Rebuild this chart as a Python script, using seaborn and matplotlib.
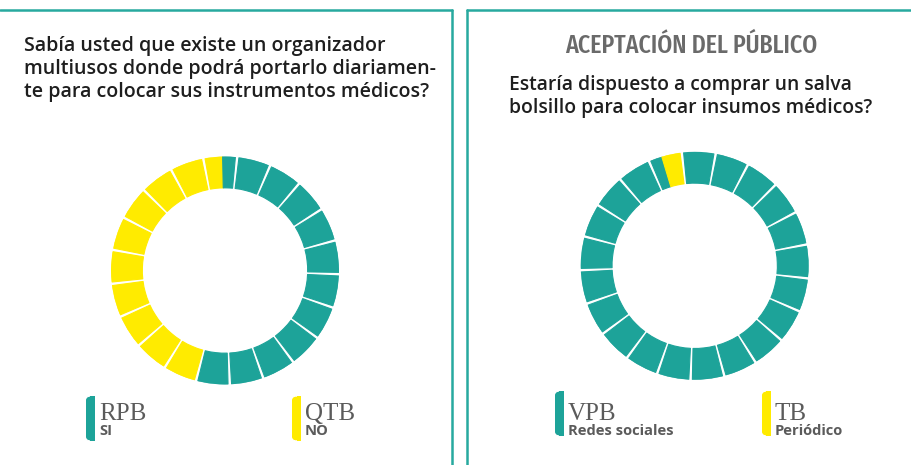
import numpy as np
import matplotlib
matplotlib.use("Agg")
import matplotlib.pyplot as plt
from matplotlib import font_manager as fm
from matplotlib.lines import Line2D
from matplotlib.patches import FancyBboxPatch, Rectangle
import seaborn as sns

# survey data (35 answers each)
left_codes = ["RPB", "QTB"]
left_labels = ["SI", "NO"]
left_counts = [19, 16]

right_codes = ["VPB", "TB"]
right_labels = ["Redes sociales", "Periódico"]
right_counts = [34, 1]

left_question = ("Sabía usted que existe un organizador\n"
                 "multiusos donde podrá portarlo diariamen-\n"
                 "te para colocar sus instrumentos médicos?")
right_question = ("Estaría dispuesto a comprar un salva\n"
                  "bolsillo para colocar insumos médicos?")
right_title = "ACEPTACIÓN DEL PÚBLICO"

N_BLOCKS = 21

sns.set_theme(style="white")
plt.rcParams["font.family"] = ["Open Sans", "DejaVu Sans"]
palette = sns.color_palette(["#1da399", "#ffeb00"])
TEAL, YELLOW = palette[0], palette[1]
BORDER = "#27a99f"

# look for the narrowest sans face for the title
STRETCH = {"ultra-condensed": 100, "extra-condensed": 200, "condensed": 300,
           "semi-condensed": 400, "normal": 500}
WEIGHT = {"light": 300, "normal": 400, "regular": 400, "medium": 500,
          "semibold": 600, "demibold": 600, "bold": 700}


def num(v, table, default):
    if isinstance(v, (int, float)):
        return v
    return table.get(str(v).lower(), default)


title_font, best = None, None
for f in fm.fontManager.ttflist:
    low = f.name.lower()
    if "serif" in low or "mono" in low or f.style != "normal":
        continue
    st = num(f.stretch, STRETCH, 500)
    if "extracondensed" in low.replace(" ", "") or "extra condensed" in low:
        st = min(st, 200)
    elif "semicondensed" in low.replace(" ", ""):
        st = min(st, 400)
    elif "condensed" in low or "narrow" in low:
        st = min(st, 300)
    if st >= 500:
        continue
    score = st * 1.5 + abs(num(f.weight, WEIGHT, 400) - 450) * 0.5
    if best is None or score < best:
        best, title_font = score, f

W, H = 912, 465
fig = plt.figure(figsize=(W / 100, H / 100), dpi=100)
fig.patch.set_facecolor("white")


def px(x, y):
    return x / W, 1 - y / H


def block_donut(cx, cy, counts, grid_start, data_start, r_px=114):
    x0, y0 = px(cx - r_px, cy + r_px)
    ax = fig.add_axes([x0, y0, 2 * r_px / W, 2 * r_px / H], projection="polar")
    ax.set_theta_zero_location("N")
    ax.set_theta_direction(-1)
    frac = np.array(counts) / np.sum(counts)
    edges = data_start + 360 * np.concatenate([[0], np.cumsum(frac)])
    bw = 360 / N_BLOCKS
    gap = 1.8
    for i in range(N_BLOCKS):
        a0 = grid_start + i * bw + gap / 2
        a1 = grid_start + (i + 1) * bw - gap / 2
        for shift in (-360, 0, 360):
            for k in range(len(counts)):
                s = max(a0, edges[k] + shift)
                e = min(a1, edges[k + 1] + shift)
                if e - s > 0.05:
                    ax.bar(np.deg2rad((s + e) / 2), 0.275, width=np.deg2rad(e - s),
                           bottom=0.725, color=palette[k], linewidth=0.8,
                           edgecolor=palette[k], joinstyle="round")
    ax.set_ylim(0, 1)
    ax.set_axis_off()
    return ax


block_donut(225, 270.5, left_counts, grid_start=-11, data_start=-1.2)
block_donut(694.7, 265.8, right_counts, grid_start=-6.5, data_start=-6.5)

# panel borders
for xs, ys in [((0, 452), (10.5, 10.5)), ((452, 452), (10.5, 466)),
               ((467, 467), (10.5, 466)), ((467, 912), (10.5, 10.5))]:
    fig.add_artist(Line2D([x / W for x in xs], [1 - y / H for y in ys],
                          color=BORDER, lw=1.8))

# texts
fig.text(*px(24, 36), left_question, fontsize=14.1, color="#1e1e1e",
         fontweight="semibold", va="top", ha="left", linespacing=1.2)
fig.text(*px(509, 75), right_question, fontsize=13.9, color="#1e1e1e",
         fontweight="semibold", va="top", ha="left", linespacing=1.2)

if title_font is not None:
    tprop = fm.FontProperties(fname=title_font.fname, size=20)
else:
    tprop = fm.FontProperties(family=["Roboto", "DejaVu Sans"], size=20)
title = fig.text(*px(691, 53), right_title, color="#6a6a6a", va="baseline",
                 ha="center", fontproperties=tprop)
# scale the title so it spans about the same width as in the original
renderer = fig.canvas.get_renderer()
tw = title.get_window_extent(renderer).width
title.set_fontsize(min(26, 20 * 253 / tw))


def legend_item(x, y_top, y_bot, code, label, color):
    h = (y_bot - y_top) / H
    fig.add_artist(FancyBboxPatch(px(x, y_bot), 9 / W, h,
                                  boxstyle="round,pad=0,rounding_size=0.009",
                                  transform=fig.transFigure, facecolor=color,
                                  edgecolor="none"))
    fig.add_artist(Rectangle(px(x + 4.5, y_bot), 4.5 / W, h,
                             transform=fig.transFigure, facecolor=color,
                             edgecolor="none"))
    fig.text(*px(x + 13, 419.5), code, fontsize=18, color="#5b5b5b",
             family=["Liberation Serif"], va="baseline", ha="left")
    fig.text(*px(x + 13, 435), label, fontsize=10.6, color="#5b5b5b",
             fontweight="bold", va="baseline", ha="left")


legend_item(86, 396, 441, left_codes[0], left_labels[0], TEAL)
legend_item(292, 396, 441, left_codes[1], left_labels[1], YELLOW)
legend_item(555, 391, 436, right_codes[0], right_labels[0], TEAL)
legend_item(762, 391, 436, right_codes[1], right_labels[1], YELLOW)

fig.savefig("out.png", dpi=100, facecolor="white")
